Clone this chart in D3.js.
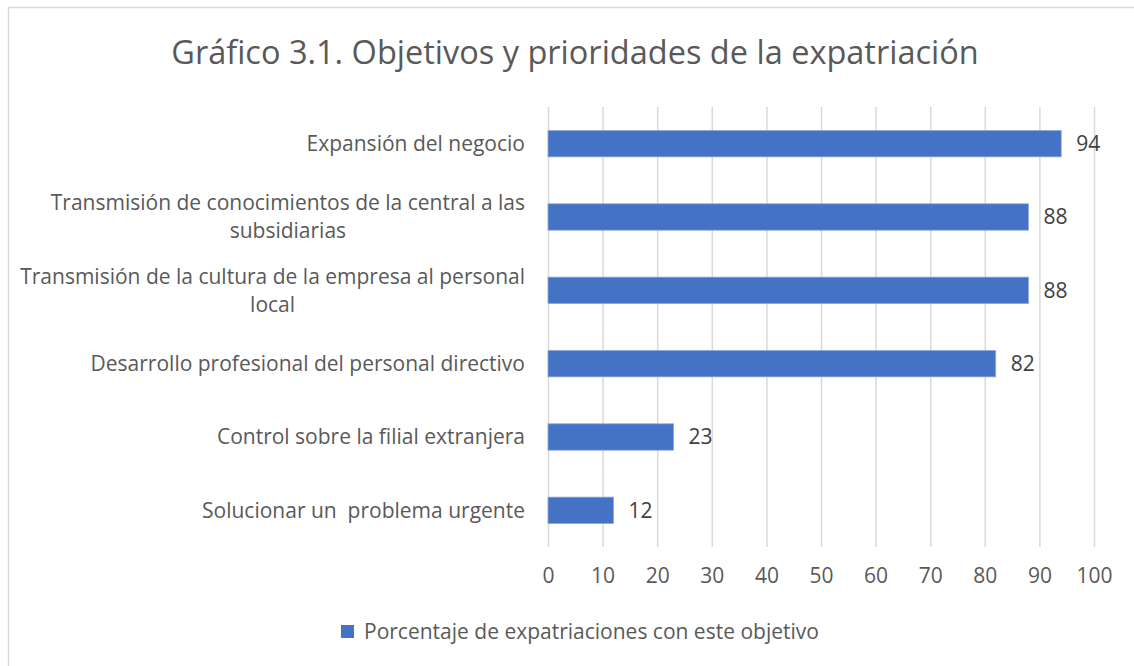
<!DOCTYPE html>
<html>
<head>
<meta charset="utf-8">
<script src="https://cdn.jsdelivr.net/npm/d3@7"></script>
<style>
  body { margin: 0; background: #fff; }
  svg { display: block; font-family: "Open Sans", "Noto Sans", sans-serif; }
  text { white-space: pre; }
</style>
</head>
<body>
<script>
// Gráfico 3.1 - horizontal bar chart

const categories = [
  ["Expansión del negocio"],
  ["Transmisión de conocimientos de la central a las", "subsidiarias"],
  ["Transmisión de la cultura de la empresa al personal", "local"],
  ["Desarrollo profesional del personal directivo"],
  ["Control sobre la filial extranjera"],
  ["Solucionar un  problema urgente"]
]
const values = [94, 88, 88, 82, 23, 12]
const xTicks = [0, 10, 20, 30, 40, 50, 60, 70, 80, 90, 100]
const seriesName = "Porcentaje de expatriaciones con este objetivo"
const title = "Gráfico 3.1. Objetivos y prioridades de la expatriación"

const WIDTH = 1134
const HEIGHT = 666
const BAR_COLOR = "#4472C4"
const GRID = "#d9d9d9"
const TEXT = "#595959"
const FONT = "21px"

const data = categories.map((c, i) => ({ id: i, lines: c, value: values[i] }))

const svg = d3.select("body")
  .append("svg")
  .attr("width", WIDTH)
  .attr("height", HEIGHT)

// chart border (right and bottom edges fall outside the picture)
svg.append("rect")
  .attr("x", 8.5).attr("y", 7.5)
  .attr("width", WIDTH).attr("height", HEIGHT)
  .attr("fill", "none")
  .attr("stroke", GRID)
  .attr("stroke-width", 1.5)

svg.append("text")
  .attr("x", 575).attr("y", 64)
  .attr("text-anchor", "middle")
  .style("font-size", "32.5px")
  .style("fill", TEXT)
  .text(title)

const xScale = d3.scaleLinear().domain([0, 100]).range([548, 1094])
const yScale = d3.scaleBand()
  .domain(data.map(d => d.id))
  .range([107, 547])
  .paddingInner(0.64)
  .paddingOuter(0.32)

// gridlines + tick labels through an axis
const xAxis = d3.axisBottom(xScale)
  .tickValues(xTicks)
  .tickSize(-(547 - 107))
  .tickPadding(21)
  .tickFormat(d3.format("d"))

const xAxisGroup = svg.append("g")
  .attr("transform", "translate(0,547)")
  .call(xAxis)

xAxisGroup.select(".domain").remove()
xAxisGroup.selectAll(".tick line")
  .attr("stroke", GRID)
  .attr("stroke-width", 1.5)
xAxisGroup.selectAll(".tick text")
  .style("font-size", FONT)
  .style("font-family", "\"Open Sans\", sans-serif")
  .attr("fill", TEXT)

svg.selectAll(".bar")
  .data(data)
  .join("rect")
  .attr("class", "bar")
  .attr("x", xScale(0))
  .attr("y", d => yScale(d.id))
  .attr("width", d => xScale(d.value) - xScale(0))
  .attr("height", yScale.bandwidth())
  .attr("fill", BAR_COLOR)
  .attr("stroke", "#8eaadb")
  .attr("stroke-width", 0.8)

svg.selectAll(".value-label")
  .data(data)
  .join("text")
  .attr("class", "value-label")
  .attr("x", d => xScale(d.value) + 15)
  .attr("y", d => yScale(d.id) + yScale.bandwidth() / 2)
  .attr("dy", "0.35em")
  .style("font-size", FONT)
  .style("fill", "#404040")
  .text(d => d.value)

// category labels, block right-aligned, lines centered on each other
const LINE_H = 28
const catLabels = svg.selectAll(".cat-label")
  .data(data)
  .join("text")
  .attr("class", "cat-label")
  .style("font-size", FONT)
  .style("fill", TEXT)
  .attr("text-anchor", "middle")

catLabels.each(function(d) {
  const t = d3.select(this)
  const cy = yScale(d.id) + yScale.bandwidth() / 2
  const spans = t.selectAll("tspan")
    .data(d.lines)
    .join("tspan")
    .attr("y", (l, i) => cy + (i - (d.lines.length - 1) / 2) * LINE_H)
    .attr("dy", "0.35em")
    .text(l => l)
  let maxW = 0
  spans.each(function() { maxW = Math.max(maxW, this.getComputedTextLength()) })
  spans.attr("x", 525 - maxW / 2)
})

// legend
const legend = svg.append("g").attr("transform", "translate(341,625)")
legend.append("rect")
  .attr("width", 13).attr("height", 13)
  .attr("fill", BAR_COLOR)
legend.append("text")
  .attr("x", 23).attr("y", 6.5)
  .attr("dy", "0.35em")
  .style("font-size", FONT)
  .style("fill", TEXT)
  .text(seriesName)
</script>
</body>
</html>
